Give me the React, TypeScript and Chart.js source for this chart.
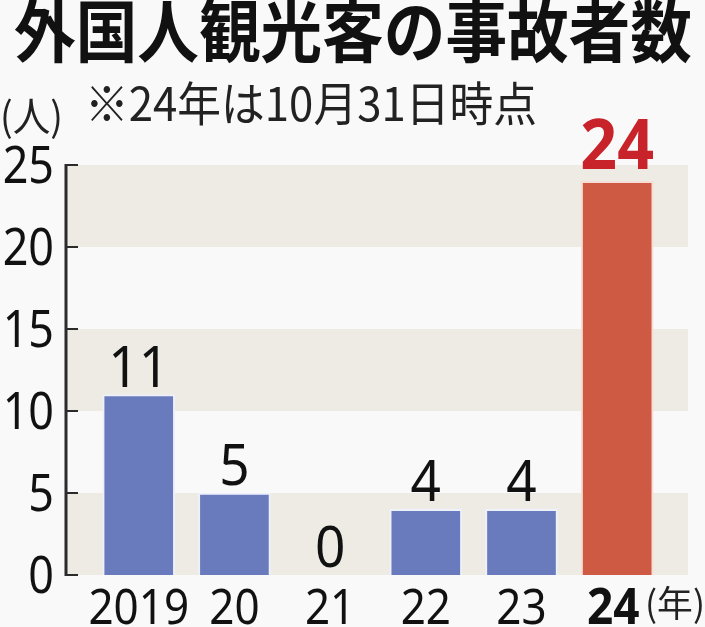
import React, { useEffect, useRef } from "react";
import { Chart, registerables } from "chart.js";

Chart.register(...registerables);

const title = "外国人観光客の事故者数";
const subtitle = "※24年は10月31日時点";
const yUnit = "(人)";
const xUnit = "(年)";
const categories = ["2019", "20", "21", "22", "23", "24"];
const values = [11, 5, 0, 4, 4, 24];
const yTicks = [0, 5, 10, 15, 20, 25];
const highlightIndex = 5;

const NUM_FONT = '"Noto Sans", sans-serif';
const JP_FONT = '"Noto Sans CJK JP", "Noto Sans", sans-serif';

const BLUE = "#6a7bbd";
const RED = "#cf5a43";
const RED_TEXT = "#c8232a";
const BAND = "#eeebe4";
const BG = "#f9f9f9";

function fitText(ctx: CanvasRenderingContext2D, text: string, x: number, y: number, width: number) {
  const w = ctx.measureText(text).width;
  ctx.save();
  ctx.translate(x, y);
  ctx.scale(width / w, 1);
  ctx.fillText(text, 0, 0);
  ctx.restore();
}

// draws text horizontally squeezed by factor sx, anchored by textAlign
function squeezeText(ctx: CanvasRenderingContext2D, text: string, x: number, y: number, sx: number) {
  ctx.save();
  ctx.translate(x, y);
  ctx.scale(sx, 1);
  ctx.fillText(text, 0, 0);
  ctx.restore();
}

const decorPlugin = {
  id: "decor",
  beforeDraw(chart: any) {
    const { ctx, chartArea, scales } = chart;
    ctx.save();
    ctx.fillStyle = BG;
    ctx.fillRect(0, 0, chart.width, chart.height);
    const y = scales.y;
    for (let i = 0; i < yTicks.length - 1; i += 2) {
      const top = y.getPixelForValue(yTicks[i + 1]);
      const bottom = y.getPixelForValue(yTicks[i]);
      ctx.fillStyle = BAND;
      ctx.fillRect(chartArea.left, top, chartArea.right - chartArea.left, bottom - top);
    }
    ctx.restore();
  },
  afterDraw(chart: any) {
    const { ctx, chartArea, scales } = chart;
    const y = scales.y;
    const x = scales.x;
    ctx.save();
    // axis line and inward ticks
    ctx.strokeStyle = "#2b2b2b";
    ctx.lineWidth = 3;
    ctx.beginPath();
    ctx.moveTo(chartArea.left, y.getPixelForValue(yTicks[yTicks.length - 1]) - 1);
    ctx.lineTo(chartArea.left, y.getPixelForValue(0) + 1);
    ctx.stroke();
    ctx.lineWidth = 2;
    yTicks.forEach((t) => {
      const py = y.getPixelForValue(t);
      ctx.beginPath();
      ctx.moveTo(chartArea.left, py);
      ctx.lineTo(chartArea.left + 12, py);
      ctx.stroke();
    });

    // y tick labels
    ctx.fillStyle = "#111";
    ctx.textAlign = "right";
    ctx.textBaseline = "alphabetic";
    ctx.font = `51px ${NUM_FONT}`;
    yTicks.forEach((t) => {
      const py = y.getPixelForValue(t);
      squeezeText(ctx, String(t), chartArea.left - 12, py + 18, 0.88);
    });

    // x tick labels
    ctx.textAlign = "center";
    categories.forEach((c, i) => {
      const px = x.getPixelForValue(i);
      if (i === highlightIndex) {
        ctx.font = `bold 51px ${NUM_FONT}`;
        squeezeText(ctx, c, px - 4, 624, 0.9);
      } else {
        ctx.font = `50px ${NUM_FONT}`;
        squeezeText(ctx, c, px, 624, 0.88);
      }
    });

    // value labels
    const meta = chart.getDatasetMeta(0);
    meta.data.forEach((bar: any, i: number) => {
      if (i === highlightIndex) {
        ctx.fillStyle = RED_TEXT;
        ctx.font = `bold 70px ${NUM_FONT}`;
        squeezeText(ctx, String(values[i]), bar.x, bar.y - 12, 0.92);
      } else {
        ctx.fillStyle = "#111";
        ctx.font = `56px ${NUM_FONT}`;
        squeezeText(ctx, String(values[i]), bar.x, bar.y - 8, 0.95);
      }
    });

    // titles
    ctx.textAlign = "left";
    ctx.fillStyle = "#111";
    ctx.font = `bold 68px ${JP_FONT}`;
    fitText(ctx, title, 14, 57, 678);
    ctx.fillStyle = "#222";
    ctx.font = `47px ${JP_FONT}`;
    fitText(ctx, subtitle, 85, 121, 452);
    ctx.font = `40px ${JP_FONT}`;
    fitText(ctx, yUnit, 0, 131, 63);
    ctx.font = `36px ${JP_FONT}`;
    fitText(ctx, xUnit, 645, 617, 60);
    ctx.restore();
  },
};

export default function App() {
  const ref = useRef<HTMLCanvasElement | null>(null);

  useEffect(() => {
    document.body.style.margin = "0";
    document.body.style.background = BG;
    if (!ref.current) return;
    const chart = new Chart(ref.current, {
      type: "bar",
      data: {
        datasets: [
          {
            data: values.map((v, i) => ({ x: i, y: v })),
            backgroundColor: values.map((_, i) => (i === highlightIndex ? RED : BLUE)),
            borderColor: values.map((_, i) => (i === highlightIndex ? "#f6ded6" : "#eef1fa")),
            borderWidth: 2,
            barThickness: 72,
          },
        ],
      },
      options: {
        animation: false,
        responsive: false,
        devicePixelRatio: 1,
        layout: { padding: { top: 165, right: 17, left: 0, bottom: 0 } },
        plugins: {
          legend: { display: false },
          tooltip: { enabled: false },
          title: { display: false },
        },
        scales: {
          x: {
            type: "linear",
            offset: false,
            min: -0.76,
            max: 5.74,
            grid: { display: false, drawTicks: false },
            border: { display: false },
            afterBuildTicks: (s: any) => {
              s.ticks = categories.map((_, i) => ({ value: i }));
            },
            afterFit: (s: any) => {
              s.height = 52;
            },
            ticks: { display: false },
          },
          y: {
            min: 0,
            max: 25,
            grid: { display: false, drawTicks: false },
            border: { display: false },
            afterBuildTicks: (s: any) => {
              s.ticks = yTicks.map((v) => ({ value: v }));
            },
            afterFit: (s: any) => {
              s.width = 66;
            },
            ticks: { display: false },
          },
        },
      },
      plugins: [decorPlugin],
    } as any);
    return () => chart.destroy();
  }, []);

  return <canvas ref={ref} width={705} height={627} style={{ display: "block", width: 705, height: 627 }} />;
}
